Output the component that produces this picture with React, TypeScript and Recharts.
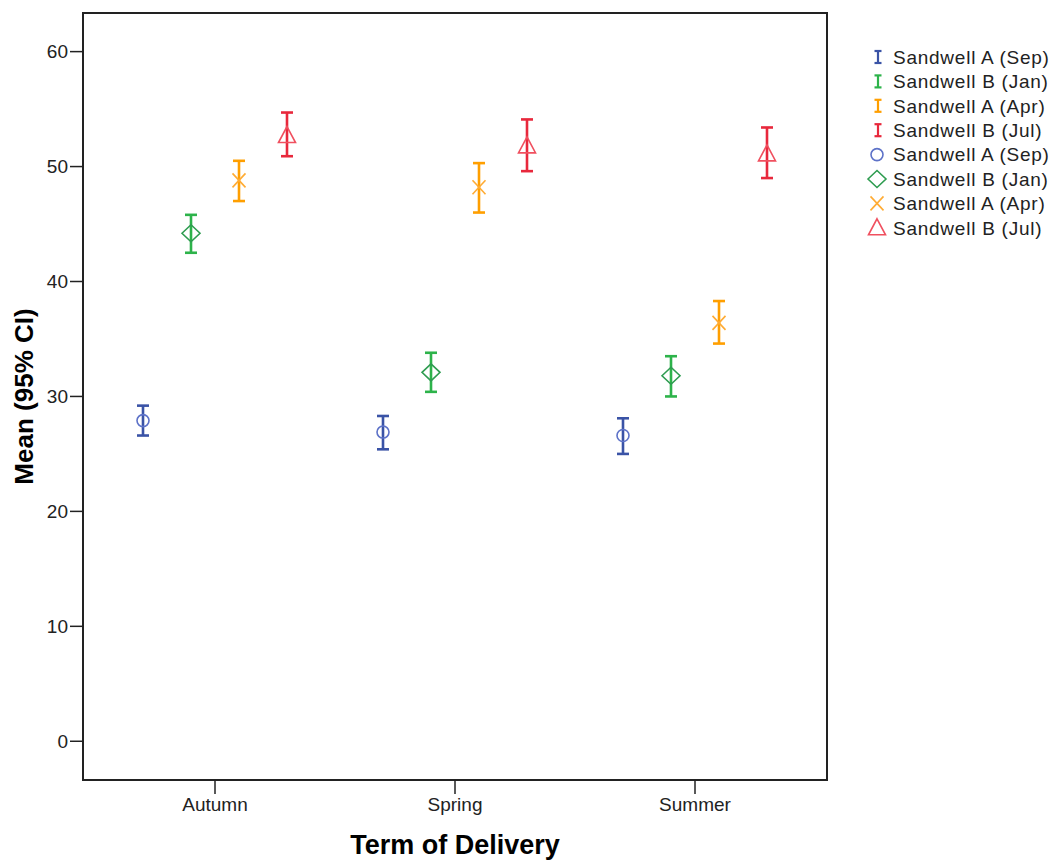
import React from 'react';
import { ScatterChart, Scatter, XAxis, YAxis, ErrorBar, ReferenceArea } from 'recharts';

const terms = ['Autumn', 'Spring', 'Summer'];
const seriesNames = ['Sandwell A (Sep)', 'Sandwell B (Jan)', 'Sandwell A (Apr)', 'Sandwell B (Jul)'];
const offsets = [-0.3, -0.1, 0.1, 0.3];
const yTicks = [0, 10, 20, 30, 40, 50, 60];

// mean and 95% CI per series, in term order (Autumn, Spring, Summer)
const sepMean = [27.9, 26.9, 26.6];
const sepLow = [26.6, 25.4, 25.0];
const sepHigh = [29.2, 28.3, 28.1];

const janMean = [44.2, 32.1, 31.8];
const janLow = [42.5, 30.4, 30.0];
const janHigh = [45.8, 33.8, 33.5];

const aprMean = [48.8, 48.2, 36.4];
const aprLow = [47.0, 46.0, 34.6];
const aprHigh = [50.5, 50.3, 38.3];

const julMean = [52.7, 51.8, 51.1];
const julLow = [50.9, 49.6, 49.0];
const julHigh = [54.7, 54.1, 53.4];

const barColors = ['#3a53a6', '#2db34a', '#ff9f00', '#e8283c'];
const markColors = ['#5d72c8', '#2e9c50', '#ffab33', '#f0505f'];

const X_DOMAIN = [0.45, 3.55];
const Y_DOMAIN = [-3.37, 63.36];

const allMeans = [sepMean, janMean, aprMean, julMean];
const allLows = [sepLow, janLow, aprLow, julLow];
const allHighs = [sepHigh, janHigh, aprHigh, julHigh];

const seriesData = allMeans.map((means, s) =>
  means.map((m, t) => ({
    x: t + 1 + offsets[s],
    y: m,
    ci: [m - allLows[s][t], allHighs[s][t] - m],
  }))
);

function Marker({ kind, cx, cy, color }: { kind: number; cx: number; cy: number; color: string }) {
  const sw = 1.6;
  if (kind === 0) return <circle cx={cx} cy={cy} r={6} fill="none" stroke={color} strokeWidth={sw} />;
  if (kind === 1)
    return (
      <polygon
        points={`${cx - 9},${cy} ${cx},${cy - 8.5} ${cx + 9},${cy} ${cx},${cy + 8.5}`}
        fill="none"
        stroke={color}
        strokeWidth={sw}
      />
    );
  if (kind === 2)
    return (
      <g stroke={color} strokeWidth={sw}>
        <line x1={cx - 6.5} y1={cy - 7} x2={cx + 6.5} y2={cy + 7} />
        <line x1={cx - 6.5} y1={cy + 7} x2={cx + 6.5} y2={cy - 7} />
      </g>
    );
  return (
    <polygon
      points={`${cx},${cy - 9} ${cx + 8.5},${cy + 7} ${cx - 8.5},${cy + 7}`}
      fill="none"
      stroke={color}
      strokeWidth={sw}
    />
  );
}

function LegendBox() {
  const font = "'Liberation Sans', Arial, sans-serif";
  const rowH = 24.4;
  return (
    <svg width={190} height={200} style={{ position: 'absolute', left: 863, top: 43 }}>
      {seriesNames.map((name, i) => {
        const y = 14 + i * rowH;
        return (
          <g key={'e' + i}>
            <g stroke={barColors[i]} strokeWidth={2.2}>
              <line x1={15} y1={y - 6} x2={15} y2={y + 6} />
              <line x1={11.5} y1={y - 6} x2={18.5} y2={y - 6} />
              <line x1={11.5} y1={y + 6} x2={18.5} y2={y + 6} />
            </g>
            <text x={30} y={y} dy="0.36em" fontSize={19} letterSpacing={0.75} fill="#222" fontFamily={font}>
              {name}
            </text>
          </g>
        );
      })}
      {seriesNames.map((name, i) => {
        const y = 14 + (i + 4) * rowH;
        return (
          <g key={'m' + i}>
            <Marker kind={i} cx={14} cy={y} color={markColors[i]} />
            <text x={30} y={y} dy="0.36em" fontSize={19} letterSpacing={0.75} fill="#222" fontFamily={font}>
              {name}
            </text>
          </g>
        );
      })}
    </svg>
  );
}

export default function App() {
  const font = "'Liberation Sans', Arial, sans-serif";
  return (
    <div style={{ position: 'absolute', left: 0, top: 0, width: 1053, height: 861, background: '#fff' }}>
      <ScatterChart width={1053} height={861} margin={{ top: 13, right: 226, left: 0, bottom: 0 }}>
        <XAxis
          type="number"
          dataKey="x"
          domain={X_DOMAIN}
          allowDataOverflow
          ticks={[1, 2, 3]}
          tickFormatter={(v: number) => terms[v - 1]}
          height={81}
          axisLine={false}
          tickSize={14}
          tickMargin={4}
          tickLine={{ stroke: '#222', strokeWidth: 1.5 }}
          tick={{ fontSize: 19, fill: '#222', fontFamily: font }}
          label={{
            value: 'Term of Delivery',
            position: 'insideBottom',
            offset: 7,
            style: { fontSize: 27, fontWeight: 'bold', fill: '#000', fontFamily: font },
          }}
        />
        <YAxis
          type="number"
          dataKey="y"
          domain={Y_DOMAIN}
          allowDataOverflow
          ticks={yTicks}
          width={83}
          axisLine={false}
          tickSize={13}
          tickMargin={2}
          tickLine={{ stroke: '#222', strokeWidth: 1.5 }}
          tick={{ fontSize: 19, fill: '#222', fontFamily: font }}
          label={{
            value: 'Mean (95% CI)',
            angle: -90,
            position: 'insideLeft',
            offset: 24,
            style: { textAnchor: 'middle', fontSize: 26, fontWeight: 'bold', fill: '#000', fontFamily: font },
          }}
        />
        <ReferenceArea
          x1={X_DOMAIN[0]}
          x2={X_DOMAIN[1]}
          y1={Y_DOMAIN[0]}
          y2={Y_DOMAIN[1]}
          fill="none"
          stroke="#222"
          strokeWidth={2}
          ifOverflow="visible"
        />
        {seriesData.map((data, s) => (
          <Scatter
            key={seriesNames[s]}
            name={seriesNames[s]}
            data={data}
            isAnimationActive={false}
            shape={(p: any) => <Marker kind={s} cx={p.cx} cy={p.cy} color={markColors[s]} />}
          >
            <ErrorBar
              dataKey="ci"
              direction="y"
              width={6}
              stroke={barColors[s]}
              strokeWidth={2.6}
              isAnimationActive={false}
            />
          </Scatter>
        ))}
      </ScatterChart>
      <LegendBox />
    </div>
  );
}
